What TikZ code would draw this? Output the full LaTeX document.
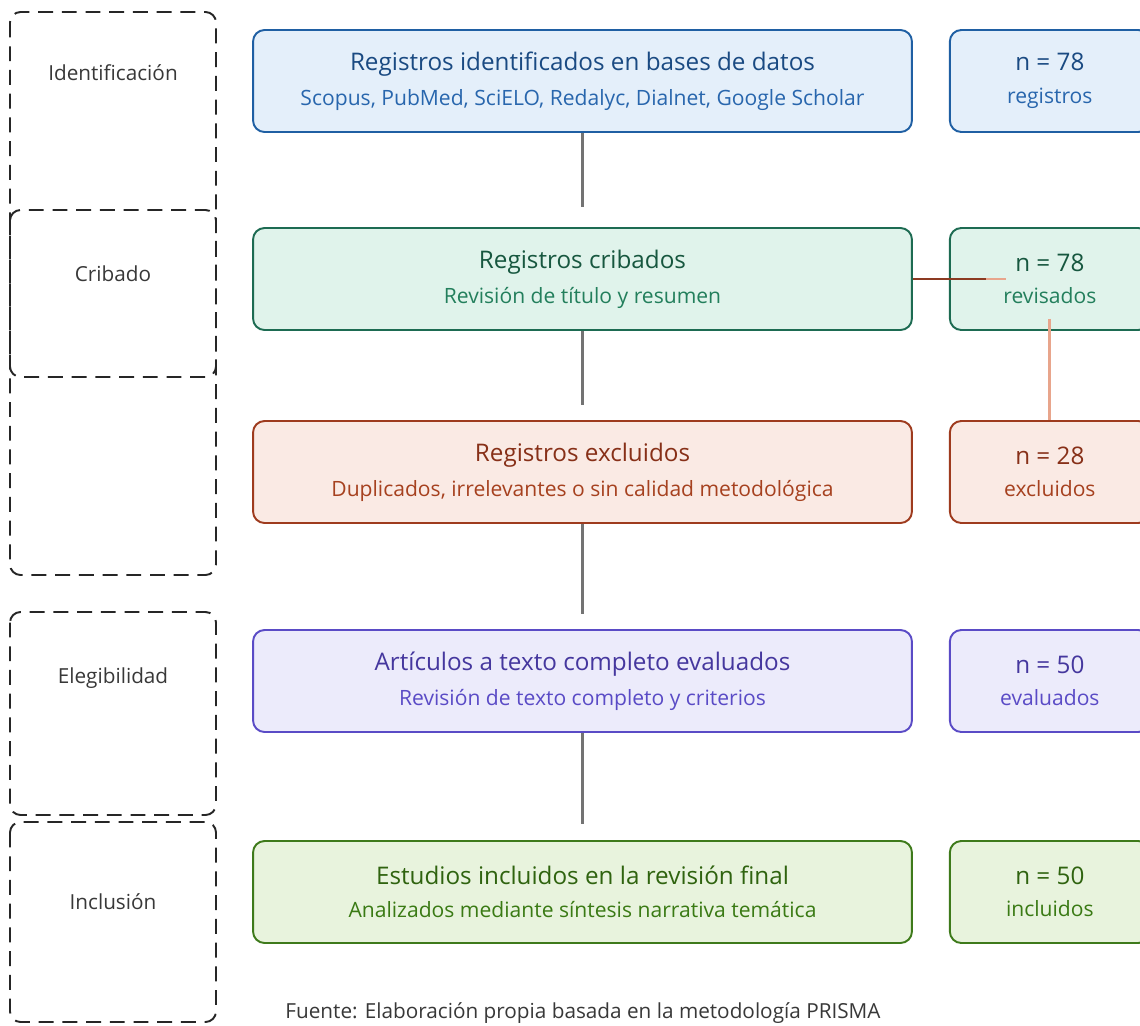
\documentclass[tikz,border=0pt]{standalone}
\usepackage{fontspec}
\setmainfont{Open Sans}
\usetikzlibrary{calc,positioning}

\definecolor{idFill}{HTML}{E4EFFA}
\definecolor{idLine}{HTML}{1F5FA3}
\definecolor{idText}{HTML}{1A4A82}
\definecolor{idSub}{HTML}{2866AD}
\definecolor{crFill}{HTML}{E0F3EB}
\definecolor{crLine}{HTML}{1D6B52}
\definecolor{crText}{HTML}{17573F}
\definecolor{crSub}{HTML}{237F5C}
\definecolor{exFill}{HTML}{FAEAE4}
\definecolor{exLine}{HTML}{9E3B1E}
\definecolor{exText}{HTML}{873018}
\definecolor{exSub}{HTML}{A6411F}
\definecolor{elFill}{HTML}{ECEBFB}
\definecolor{elLine}{HTML}{5A4BC6}
\definecolor{elText}{HTML}{45379E}
\definecolor{elSub}{HTML}{5A4BC6}
\definecolor{inFill}{HTML}{E8F3DD}
\definecolor{inLine}{HTML}{3E7A1B}
\definecolor{inText}{HTML}{2F630F}
\definecolor{inSub}{HTML}{3A7A14}
\definecolor{salmon}{HTML}{E8A58C}
\definecolor{rust}{HTML}{8C3A22}

\newcommand{\boxtext}[4]{{\color{#1}\fontsize{13.8}{15}\selectfont #2}\\[6.5pt]{\color{#3}\fontsize{12}{14}\selectfont #4}}

\tikzset{
  phase/.style={draw=black!85, line width=1.1pt, dash pattern=on 8.5pt off 5pt, rounded corners=6pt},
  phaselabel/.style={text=black!78, font=\fontsize{11.8}{14}\selectfont},
  stage/.style={draw=#1Line, fill=#1Fill, line width=1.1pt, rounded corners=6.5pt,
    minimum width=13.18cm, minimum height=2.04cm, align=center, inner sep=0pt},
  count/.style={stage=#1, minimum width=4cm},
  conn/.style={draw=black!55, line width=1.6pt},
  link/.style={draw=salmon, line width=1.6pt},
}

\begin{document}
\begin{tikzpicture}[x=0.02cm, y=-0.02cm]
		%%%%% START %%%%%
		\useasboundingbox (0,0) rectangle (1140,1025);
		\clip (0,0) rectangle (1140,1025);
		
		% phases
		\draw[phase] (10,12) rectangle (216,575);
		\draw[phase] (10,210) rectangle (216,377);
		\draw[phase] (10,612) rectangle (216,815);
		\draw[phase] (10,822) rectangle (216,1022);
		
		\node[phaselabel] (pId) at (113,73) {Identificación};
		\node[phaselabel] (pCr) at (113,274) {Cribado};
		\node[phaselabel] (pEl) at (113,678) {Elegibilidad};
		\node[phaselabel] (pIn) at (113,902) {Inclusión};
		
		% stages
		\node[stage=id] (reg) at (582.5,81) {\boxtext{idText}{Registros identificados en bases de datos}{idSub}{Scopus, PubMed, SciELO, Redalyc, Dialnet, Google Scholar}};
		\node[stage=cr] (cri) at (582.5,279) {\boxtext{crText}{Registros cribados}{crSub}{Revisión de título y resumen}};
		\node[stage=ex] (exc) at (582.5,472) {\boxtext{exText}{Registros excluidos}{exSub}{Duplicados, irrelevantes o sin calidad metodológica}};
		\node[stage=el] (eva) at (582.5,681) {\boxtext{elText}{Artículos a texto completo evaluados}{elSub}{Revisión de texto completo y criterios}};
		\node[stage=in] (inc) at (582.5,892) {\boxtext{inText}{Estudios incluidos en la revisión final}{inSub}{Analizados mediante síntesis narrativa temática}};
		
		% counts
		\node[count=id, right=0.72cm of reg] (nReg) {\boxtext{idText}{n = 78}{idSub}{registros}};
		\node[count=cr, right=0.72cm of cri] (nCri) {\boxtext{crText}{n = 78}{crSub}{revisados}};
		\node[count=ex, right=0.72cm of exc] (nExc) {\boxtext{exText}{n = 28}{exSub}{excluidos}};
		\node[count=el, right=0.72cm of eva] (nEva) {\boxtext{elText}{n = 50}{elSub}{evaluados}};
		\node[count=in, right=0.72cm of inc] (nInc) {\boxtext{inText}{n = 50}{inSub}{incluidos}};
		
		% connectors
		\draw[conn] (reg.south) -- ($(cri.north)+(0,-20)$);
		\draw[conn] (cri.south) -- ($(exc.north)+(0,-15)$);
		\draw[conn] (exc.south) -- ($(eva.north)+(0,-15)$);
		\draw[conn] (eva.south) -- ($(inc.north)+(0,-16)$);
		
		\draw[link] (cri.east) -- ($(nCri.west)+(57,0)$);
		\draw[rust, line width=1.6pt] (cri.east) -- ($(nCri.west)+(37,0)$);
		\draw[link] ($(nCri.south)+(0,-12)$) -- (nExc.north);
		
		\node[text=black!78, font=\fontsize{11.8}{14}\selectfont] (src) at (583,1013) {Fuente: Elaboración propia basada en la metodología PRISMA};
		%%%%% END %%%%%
	\end{tikzpicture}
\end{document}
